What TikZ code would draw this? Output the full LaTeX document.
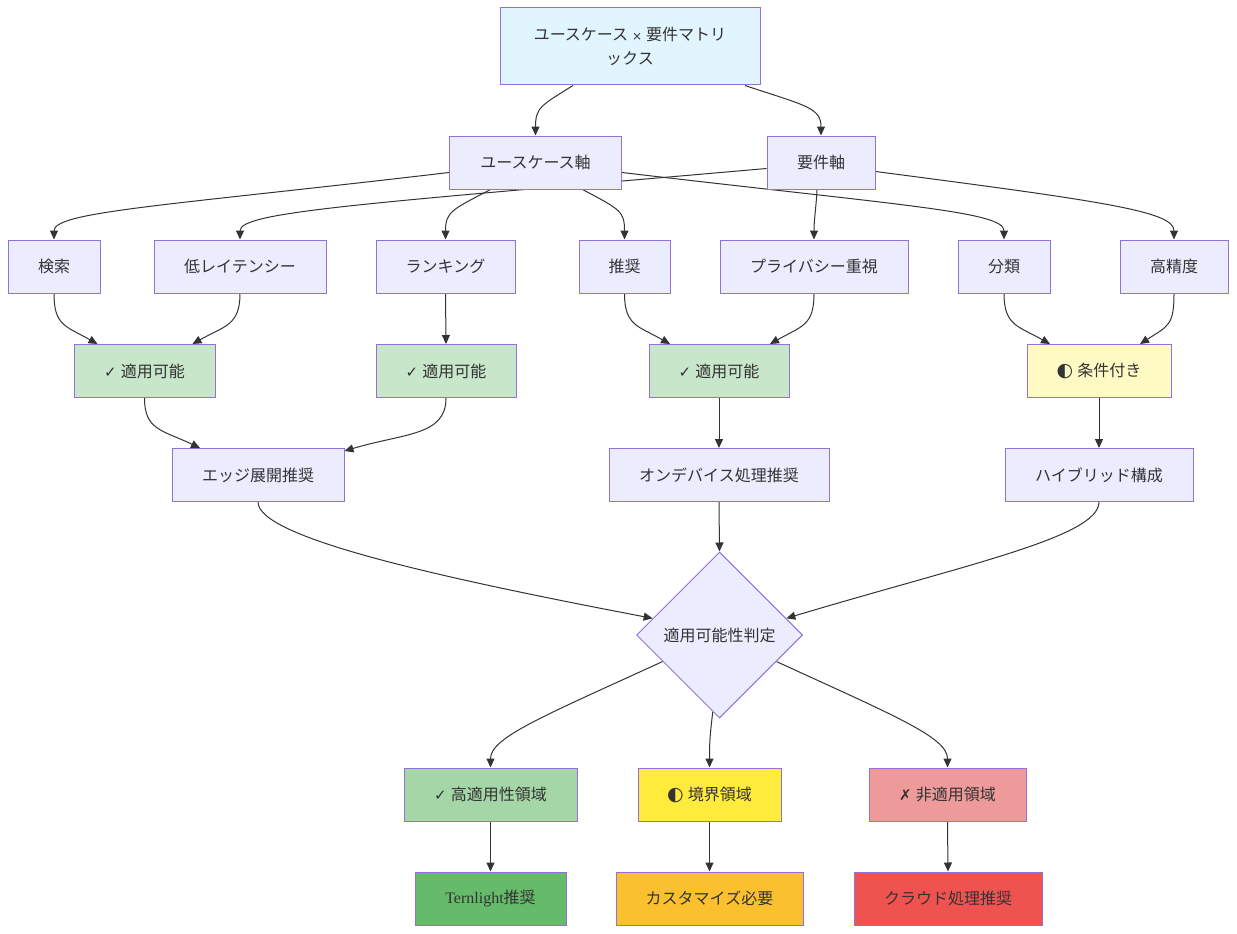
\documentclass[tikz,border=0pt]{standalone}
\usepackage{fontspec}
\setmainfont{Noto Sans CJK JP}
\newfontfamily\symfnt{DejaVu Sans}
\newfontfamily\romfnt{Liberation Serif}
\usetikzlibrary{
  shapes.geometric,
  arrows.meta,
  backgrounds, calc
}
\definecolor{mmfill}{HTML}{ECECFF}
\definecolor{mmline}{HTML}{9370DB}
\definecolor{mmedge}{HTML}{333333}
\definecolor{topfill}{HTML}{E1F5FE}
\definecolor{okfill}{HTML}{C8E6C9}
\definecolor{condfill}{HTML}{FFF9C4}
\definecolor{hifill}{HTML}{A5D6A7}
\definecolor{midfill}{HTML}{FFEB3B}
\definecolor{nonfill}{HTML}{EF9A9A}
\definecolor{ternfill}{HTML}{66BB6A}
\definecolor{custfill}{HTML}{FBC02D}
\definecolor{cloudfill}{HTML}{EF5350}
\tikzset{
  basenode/.style={rectangle,draw=mmline,fill=mmfill,line width=1pt,
    minimum height=53pt,inner sep=0pt,text=mmedge,font=\fontsize{16}{24}\selectfont},
  topnode/.style={basenode,fill=topfill,align=center,minimum height=77pt},
  oknode/.style={basenode,fill=okfill},
  condnode/.style={basenode,fill=condfill},
  hinode/.style={basenode,fill=hifill},
  midnode/.style={basenode,fill=midfill},
  nonnode/.style={basenode,fill=nonfill},
  ternnode/.style={basenode,fill=ternfill},
  custnode/.style={basenode,fill=custfill},
  cloudnode/.style={basenode,fill=cloudfill},
  decnode/.style={diamond,draw=mmline,fill=mmfill,line width=1pt,inner sep=0pt,
    minimum width=166pt,minimum height=166pt,text=mmedge,font=\fontsize{16}{24}\selectfont},
  arr/.style={-{Triangle[length=9pt,width=8pt]},line width=1pt,draw=mmedge}
}
\newcommand{\okmark}{{\symfnt\fontsize{15}{16}\selectfont ✓}\hspace{4pt}}
\newcommand{\halfmark}{{\symfnt\fontsize{19}{16}\selectfont ◐}\hspace{4pt}}
\newcommand{\ngmark}{{\symfnt\fontsize{15}{16}\selectfont ✗}\hspace{4pt}}
\newcommand{\timesmark}{\hspace{4pt}{\symfnt\fontsize{12}{16}\selectfont ×}\hspace{4pt}}

\begin{document}
\begin{tikzpicture}[x=1pt,y=-1pt]
  \useasboundingbox (0,0) rectangle (1237,934);

  % Matrix and axes
  \node[topnode,minimum width=260pt] (mtx) at (630,46.5) {ユースケース\timesmark 要件マトリ\\ックス};
  \node[basenode,minimum width=172pt] (uc) at (535.5,162.5) {ユースケース軸};
  \node[basenode,minimum width=108pt] (req) at (821,162.5) {要件軸};

  % Use cases and requirements
  \node[basenode,minimum width=92pt] (search) at (54,266.5) {検索};
  \node[basenode,minimum width=172pt] (lowlat) at (240,266.5) {低レイテンシー};
  \node[basenode,minimum width=139pt] (rank) at (445.5,266.5) {ランキング};
  \node[basenode,minimum width=91pt] (recom) at (624.5,266.5) {推奨};
  \node[basenode,minimum width=188pt] (priv) at (814,266.5) {プライバシー重視};
  \node[basenode,minimum width=92pt] (cls) at (1004,266.5) {分類};
  \node[basenode,minimum width=108pt] (acc) at (1174,266.5) {高精度};

  % Applicability
  \node[oknode,minimum width=141pt] (okA) at (144.5,371) {\okmark 適用可能};
  \node[oknode,minimum width=140pt] (okB) at (446,371) {\okmark 適用可能};
  \node[oknode,minimum width=140pt] (okC) at (719,371) {\okmark 適用可能};
  \node[condnode,minimum width=144pt] (cond) at (1099,371) {\halfmark 条件付き};

  % Recommendations
  \node[basenode,minimum width=172pt] (edge) at (258,475) {エッジ展開推奨};
  \node[basenode,minimum width=220pt] (ondev) at (719,475) {オンデバイス処理推奨};
  \node[basenode,minimum width=188pt] (hybrid) at (1099,475) {ハイブリッド構成};

  % Decision
  \node[decnode] (judge) at (719.5,635) {適用可能性判定};

  % Regions
  \node[hinode,minimum width=173pt] (hireg) at (490.5,794.5) {\okmark 高適用性領域};
  \node[midnode,minimum width=143pt] (midreg) at (709.5,794.5) {\halfmark 境界領域};
  \node[nonnode,minimum width=157pt] (nonreg) at (947.5,794.5) {\ngmark 非適用領域};

  \node[ternnode,minimum width=151pt] (tern) at (490.5,898.5) {{\romfnt Ternlight}推奨};
  \node[custnode,minimum width=187pt] (cust) at (709.5,898.5) {カスタマイズ必要};
  \node[cloudnode,minimum width=188pt] (cloud) at (948,898.5) {クラウド処理推奨};

  \begin{scope}[on background layer]
    % Matrix to axes
    \draw[arr] ($(mtx.south)+(-57,0)$) .. controls +(-32,20) and +(0,-28) .. (uc.north);
    \draw[arr] ($(mtx.south)+(115,0)$) .. controls +(60,20) and +(0,-28) .. (req.north);

    % Axes to items
    \draw[arr] ($(uc.west)+(0,10)$) .. controls +(-280,33) and +(0,-28) .. (search.north);
    \draw[arr] ($(uc.south)+(-45,0)$) .. controls +(-38,20) and +(0,-28) .. (rank.north);
    \draw[arr] ($(uc.south)+(47,0)$) .. controls +(38,20) and +(0,-28) .. (recom.north);
    \draw[arr] ($(uc.east)+(0,10)$) .. controls +(280,33) and +(0,-28) .. (cls.north);
    \draw[arr] ($(req.west)+(0,6)$) .. controls +(-400,35) and +(0,-28) .. (lowlat.north);
    \draw[arr] ($(req.south)+(-4,0)$) .. controls +(-1,20) and +(0,-20) .. (priv.north);
    \draw[arr] ($(req.east)+(0,9)$) .. controls +(230,30) and +(0,-28) .. (acc.north);

    % Items to applicability
    \draw[arr] (search.south) .. controls +(0,32) and +(-32,-18) .. ($(okA.north)+(-47,0)$);
    \draw[arr] (lowlat.south) .. controls +(0,32) and +(32,-18) .. ($(okA.north)+(48,0)$);
    \draw[arr] (rank.south) -- (okB.north);
    \draw[arr] (recom.south) .. controls +(0,32) and +(-32,-18) .. ($(okC.north)+(-49,0)$);
    \draw[arr] (priv.south) .. controls +(0,32) and +(32,-18) .. ($(okC.north)+(51,0)$);
    \draw[arr] (cls.south) .. controls +(0,32) and +(-32,-18) .. ($(cond.north)+(-49,0)$);
    \draw[arr] (acc.south) .. controls +(0,32) and +(28,-18) .. ($(cond.north)+(41,0)$);

    % Applicability to recommendations
    \draw[arr] (okA.south) .. controls +(0,32) and +(-38,-18) .. ($(edge.north)+(-58,0)$);
    \draw[arr] (okB.south) .. controls +(0,38) and +(60,-18) .. ($(edge.north east)+(0,3)$);
    \draw[arr] (okC.south) -- (ondev.north);
    \draw[arr] (cond.south) -- (hybrid.north);

    % Recommendations to decision
    \draw[arr] (edge.south) .. controls +(0,35) and +(-220,-42) .. (judge.166);
    \draw[arr] (ondev.south) -- (judge.north);
    \draw[arr] (hybrid.south) .. controls +(0,35) and +(180,-54) .. (judge.14);

    % Decision to regions
    \draw[arr] (judge.205) .. controls +(-120,55) and +(0,-30) .. (hireg.north);
    \draw[arr] (judge.265) .. controls +(-3,25) and +(0,-25) .. (midreg.north);
    \draw[arr] (judge.335) .. controls +(120,55) and +(0,-30) .. (nonreg.north);

    % Regions to outcomes
    \draw[arr] (hireg.south) -- (tern.north);
    \draw[arr] (midreg.south) -- (cust.north);
    \draw[arr] (nonreg.south) -- (cloud.north);
  \end{scope}

\end{tikzpicture}
\end{document}
